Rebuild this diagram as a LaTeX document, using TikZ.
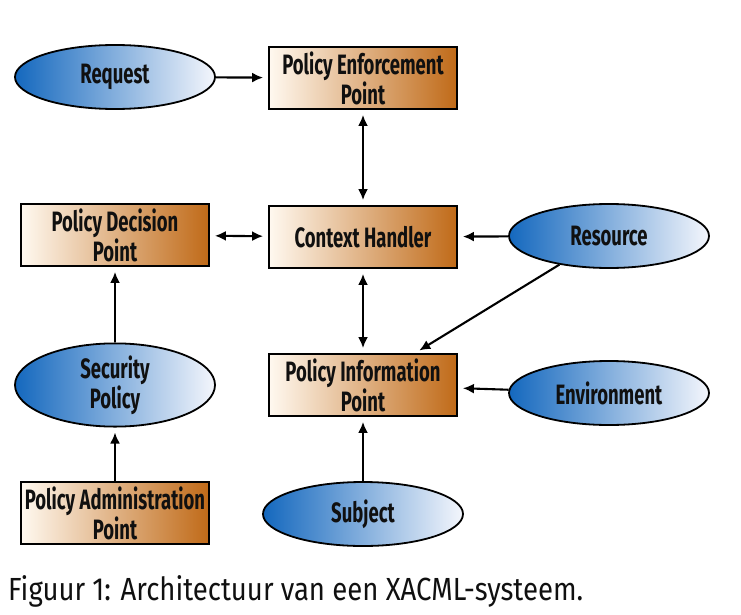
\documentclass[tikz,border=0pt]{standalone}
\usepackage{fontspec}
\usepackage{tikz}
\usepackage{xcolor}
\usetikzlibrary{arrows.meta,shapes.geometric}

\newfontfamily\diafont{Fira Sans}[FakeStretch=0.66]
\newfontfamily\capfont{Fira Sans}[FakeStretch=0.86]

\definecolor{boxlight}{HTML}{FFF9F0}
\definecolor{boxdark}{HTML}{C06A18}
\definecolor{ovaldark}{HTML}{1468BE}
\definecolor{ovallight}{HTML}{F4F6FC}
\definecolor{ink}{HTML}{101010}

\tikzset{
	box/.style={draw=black, line width=1.8pt, shade, left color=boxlight, right color=boxdark,
		minimum width=188pt, minimum height=62pt, inner sep=0pt, align=center,
		font=\diafont\bfseries\fontsize{28}{24}\selectfont, text=ink},
	oval/.style={ellipse, draw=black, line width=1.8pt, shade, left color=ovaldark, right color=ovallight,
		minimum width=200pt, minimum height=64pt, inner sep=0pt, align=center,
		font=\diafont\bfseries\fontsize{28}{24}\selectfont, text=ink},
	conn/.style={->, line width=2.1pt, shorten >=5pt},
	bothconn/.style={<->, line width=2.1pt, shorten >=5pt, shorten <=5pt}
}

\begin{document}
\begin{tikzpicture}[x=1pt, y=-1pt, >={Latex[length=11pt,width=10pt]}]
	\useasboundingbox (0,0) rectangle (741,615);
	% boxes
	\node[box] (pep) at (363,78) {Policy Enforcement\\Point};
	\node[box] (pdp) at (115,235) {Policy Decision\\Point};
	\node[box] (ch) at (363,237) {Context Handler};
	\node[box] (pip) at (363,385) {Policy Information\\Point};
	\node[box] (pap) at (115,513) {Policy Administration\\Point};
	% ovals
	\node[oval] (req) at (115,77) {Request};
	\node[oval] (res) at (609,236) {Resource};
	\node[oval] (env) at (609,393) {Environment};
	\node[oval] (sec) at (115,385) {Security\\Policy};
	\node[oval] (sub) at (363,514) {Subject};
	% connectors
	\draw[conn] (req) -- (pep);
	\draw[bothconn] (pep) -- (ch);
	\draw[bothconn] (pdp) -- (ch);
	\draw[conn] (res) -- (ch);
	\draw[bothconn] (ch) -- (pip);
	\draw[conn] (res.210) -- (pip);
	\draw[conn] (env) -- (pip);
	\draw[conn] (sec) -- (pdp);
	\draw[conn] (pap) -- (sec);
	\draw[conn] (sub) -- (pip);
	% caption
	\node[anchor=base west, inner sep=0pt, text=ink, font=\capfont\fontsize{32}{36}\selectfont] (cap) at (8,600)
		{Figuur 1: Architectuur van een XACML-systeem.};
\end{tikzpicture}
\end{document}
